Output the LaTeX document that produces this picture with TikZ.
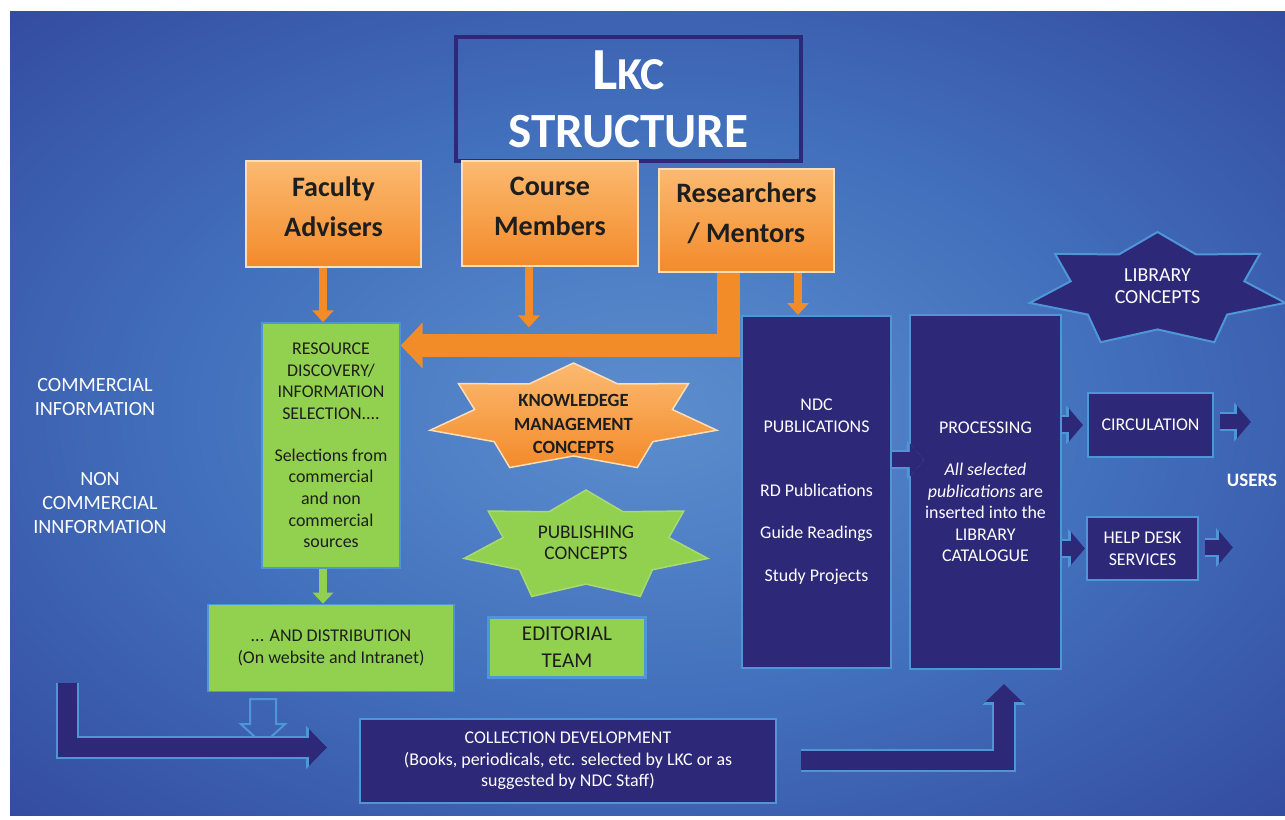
\documentclass[tikz,border=0pt]{standalone}
\usepackage{fontspec}
\setmainfont{Carlito}
\usetikzlibrary{positioning,arrows.meta,calc}
\definecolor{NavyBox}{RGB}{45,40,120}
\definecolor{EdgeBlue}{RGB}{78,150,214}
\definecolor{GreenBox}{RGB}{146,208,80}
\definecolor{OrangeTop}{RGB}{251,186,112}
\definecolor{OrangeBot}{RGB}{243,138,42}
\definecolor{OrangeArrow}{RGB}{241,140,40}
\definecolor{BgIn}{RGB}{92,142,206}
\definecolor{BgMid}{RGB}{66,112,188}
\definecolor{BgOut}{RGB}{42,50,138}
\definecolor{InkDark}{RGB}{30,30,30}
\pgfdeclareradialshading{bgglow}{\pgfpoint{0bp}{0bp}}{color(0bp)=(BgIn); color(18bp)=(BgMid); color(48bp)=(BgOut); color(75bp)=(BgOut)}

% seven pointed burst: centre, x radius, y radius, inner ratio, style
\newcommand\burst[5]{%
  \path[#5] ($(#1)+(270:#2 and #3)$)
    \foreach \k [evaluate=\k as \r using {1-(1-#4)*mod(\k,2)}] in {1,...,13}{
      -- ($(#1)+(270+\k*25.714:{#2*\r} and {#3*\r})$)
    } -- cycle;}

\begin{document}
\begin{tikzpicture}[
    x=0.02cm, y=-0.02cm,
    every node/.style={inner sep=0pt, align=center},
    smalltext/.style={font=\fontsize{10.2}{12.3}\selectfont},
    navybox/.style={
        rectangle, fill=NavyBox,
        draw=EdgeBlue, line width=0.04cm,
        text=white, smalltext
    },
    greenbox/.style={
        rectangle, fill=GreenBox,
        draw=EdgeBlue, line width=0.03cm,
        text=InkDark, smalltext
    },
    orangebox/.style={
        rectangle, top color=OrangeTop, bottom color=OrangeBot,
        draw=OrangeTop!50!white, line width=0.04cm,
        text=InkDark, text depth=0.3cm,
        font=\bfseries\fontsize{16}{22.7}\selectfont
    },
    whitetext/.style={text=white, font=\fontsize{11.5}{13.6}\selectfont},
    oarrow/.style={draw=OrangeArrow, line width=0.16cm, -{Triangle[length=0.24cm,width=0.42cm]}},
    bigarrow/.style={draw=OrangeArrow, line width=0.46cm, -{Triangle[length=0.44cm,width=0.9cm]}},
    garrow/.style={draw=GreenBox, line width=0.16cm, -{Triangle[length=0.22cm,width=0.4cm]}},
    narrow/.style={draw=NavyBox, line width=0.3cm, -{Triangle[length=0.28cm,width=0.64cm]},
        preaction={draw=EdgeBlue, line width=0.38cm, -{Triangle[length=0.34cm,width=0.76cm]}}},
    bignarrow/.style={draw=NavyBox, line width=0.4cm, -{Triangle[length=0.36cm,width=0.72cm]},
        preaction={draw=EdgeBlue, line width=0.48cm, -{Triangle[length=0.42cm,width=0.84cm]}}},
    hollowarrow/.style={draw=EdgeBlue, line width=0.04cm}
]

% Background
\useasboundingbox (0,0) rectangle (1285,820);
\shade[shading=bgglow] (10,12) rectangle (1285,815);

% Title
\node[rectangle, draw=NavyBox, line width=0.08cm,
      minimum width=6.9cm, minimum height=2.48cm,
      text=white, font=\bfseries\fontsize{28}{33}\selectfont] (title) at (628.5,99)
    {{\fontsize{34}{33}\selectfont L}{\fontsize{26}{33}\selectfont KC}\\STRUCTURE};

% Orange boxes
\node[orangebox, minimum width=3.5cm, minimum height=2.14cm] (fac) at (333.5,214) {Faculty\\Advisers};
\node[orangebox, minimum width=3.52cm, minimum height=2.12cm,
      right=0.78cm of fac.north east, anchor=north west] (crs) {Course\\Members};
\node[orangebox, minimum width=3.5cm, minimum height=2.08cm,
      right=0.38cm of crs.north east, anchor=north west, yshift=-0.16cm] (resm) {Researchers\\/ Mentors};

% Green boxes
\node[greenbox, minimum width=2.76cm, minimum height=4.9cm] (rdis) at (331,445.5) {
    RESOURCE\\DISCOVERY/\\INFORMATION\\SELECTION....\\[11.5pt]
    Selections from\\commercial\\and non\\commercial\\sources
};
\node[greenbox, minimum width=4.92cm, minimum height=1.74cm, below=0.7cm of rdis] (dist)
    {... AND DISTRIBUTION\\(On website and Intranet)};
\node[greenbox, line width=0.06cm, minimum width=3.16cm, minimum height=1.22cm,
      font=\fontsize{12}{15.3}\selectfont] (edit) at (567,647.5) {EDITORIAL\\TEAM};

% Navy boxes
\node[navybox, minimum width=2.98cm, minimum height=7.04cm] (ndc) at (816.5,492) {
    NDC\\PUBLICATIONS\\[24pt]RD Publications\\[12pt]Guide Readings\\[12pt]Study Projects
};
\node[navybox, minimum width=3.02cm, minimum height=7.08cm, right=0.34cm of ndc] (proc) {
    PROCESSING\\[11.5pt]\textit{All selected}\\\textit{publications} are\\inserted into the\\LIBRARY\\CATALOGUE
};
\node[navybox, minimum width=2.5cm, minimum height=1.28cm] (circ) at (1150.5,425) {CIRCULATION};
\node[navybox, minimum width=2.22cm, minimum height=1.26cm] (help) at (1142.5,548.5) {HELP DESK\\SERVICES};
\node[navybox, minimum width=8.32cm, minimum height=1.7cm] (coll) at (568,761) {
    COLLECTION DEVELOPMENT\\(Books, periodicals, etc. selected by LKC or as\\suggested by NDC Staff)
};

% Concept bursts
\coordinate (km) at (573.5,418);
\burst{km}{147}{55}{0.69}{top color=OrangeTop, bottom color=OrangeBot, draw=OrangeTop!50!white, line width=0.03cm}
\node[text=InkDark, font=\bfseries\fontsize{10.6}{13.6}\selectfont] (kmtext) at ($(km)+(0,6)$)
    {KNOWLEDEGE\\MANAGEMENT\\CONCEPTS};

\coordinate (pub) at (586,546);
\burst{pub}{125}{56}{0.68}{fill=GreenBox, draw=GreenBox!80!white, line width=0.03cm}
\node[text=InkDark, font=\fontsize{11}{12}\selectfont] (pubtext) at ($(pub)+(0,-3.5)$) {PUBLISHING\\CONCEPTS};

\coordinate (lib) at (1157.5,290);
\burst{lib}{131}{58}{0.68}{fill=NavyBox, draw=EdgeBlue, line width=0.04cm}
\node[text=white, font=\fontsize{11.3}{12.5}\selectfont] (libtext) at ($(lib)+(0,-4)$) {LIBRARY\\CONCEPTS};

% Side labels
\node[whitetext] (comm) at (95,397) {COMMERCIAL\\INFORMATION};
\node[whitetext] (noncomm) at (100,503) {NON\\COMMERCIAL\\INNFORMATION};
\node[text=white, font=\bfseries\fontsize{10.8}{13}\selectfont] (users) at (1252,480) {USERS};

% Orange connectors
\coordinate (fa) at ($(rdis.north)+(-8,0)$);
\draw[oarrow] (fa |- fac.south) -- (fa);
\coordinate (crsend) at ($(crs.south)+(-21,60)$);
\draw[oarrow] (crs.south -| crsend) -- (crsend);
\coordinate (rn) at ($(ndc.north)+(-18.5,0)$);
\draw[oarrow] (rn |- resm.south) -- (rn);
\coordinate (bend) at ($(resm.south)+(-17.5,72)$);
\draw[bigarrow] (resm.south -| bend) -- (bend) -- (bend -| rdis.east);

% Green connector
\draw[garrow] (rdis.south -| fa) -- (dist.north -| fa);

% Hollow arrow under distribution
\coordinate (hollow) at ($(dist.south)+(-68,0)$);
\draw[hollowarrow] ($(hollow)+(-13,7)$) -- ($(hollow)+(13,7)$) -- ($(hollow)+(13,32)$)
    -- ($(hollow)+(22,32)$) -- ($(hollow)+(0,52)$) -- ($(hollow)+(-22,32)$)
    -- ($(hollow)+(-13,32)$) -- cycle;

% Navy connectors
\draw[narrow] ($(ndc.east)+(0,-32)$) -- ($(proc.west)+(15,-32)$);
\draw[narrow] (proc.east |- circ.west) -- ($(circ.west)+(-4,0)$);
\draw[narrow] (proc.east |- help.west) -- ($(help.west)+(-1,0)$);
\coordinate (circout) at ($(circ.east)+(37,-3)$);
\draw[narrow] ($(circ.east)+(6,-3)$) -- (circout);
\coordinate (helpout) at ($(help.east)+(34,-1)$);
\draw[narrow] ($(help.east)+(6,-1)$) -- (helpout);

\coordinate (nctail) at (67.5,683);
\draw[bignarrow] (nctail) |- ($(coll.west)+(-32,-13.5)$);
\draw[bignarrow] ($(coll.east)+(24,-0.5)$) -| ($(proc.south)+(18.5,14)$);

\end{tikzpicture}
\end{document}
